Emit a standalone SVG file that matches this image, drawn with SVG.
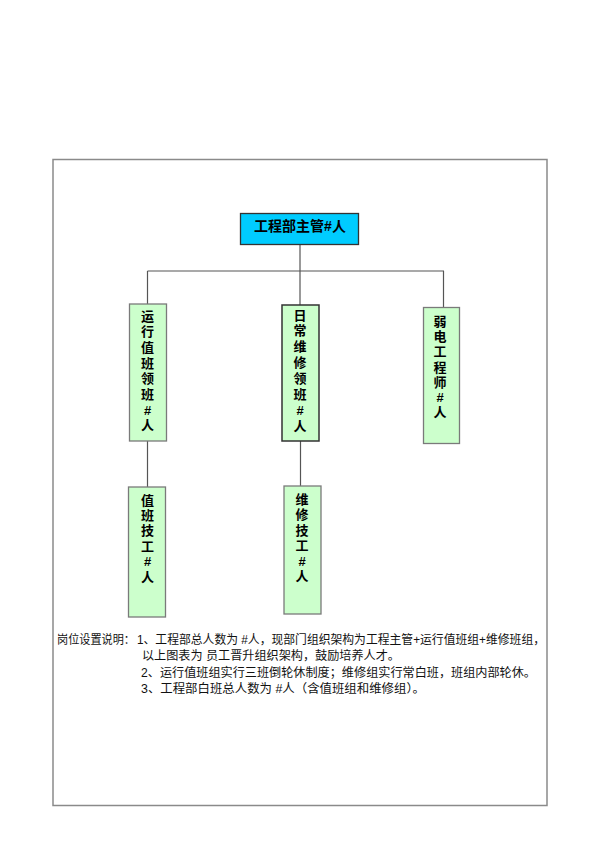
<svg xmlns="http://www.w3.org/2000/svg" width="600" height="850" viewBox="0 0 600 850">
<style>
.frame{fill:#fff;stroke:#8a8a8a;stroke-width:1.5}
.conn{stroke:#555;stroke-width:1.2;fill:none}
.boxg{fill:#ccffcc;stroke:#7a7a7a;stroke-width:1.3}
.boxgd{fill:#ccffcc;stroke:#333;stroke-width:1.5}
.boxb{fill:#00ccff;stroke:#333;stroke-width:1.3}
.nt{font-family:"Liberation Sans","Noto Sans CJK SC",sans-serif;font-size:13px;font-weight:bold;fill:#000;text-anchor:middle}
.tt{font-family:"Liberation Sans","Noto Sans CJK SC",sans-serif;font-size:14px;font-weight:bold;fill:#000;text-anchor:middle}
.note{font-family:"Liberation Sans","Noto Sans CJK SC",sans-serif;font-size:12px;fill:#111}
</style>
<rect width="600" height="850" fill="#fff"/>
<rect class="frame" x="53" y="159.5" width="494" height="646"/>
<g id="connectors">
<line class="conn" x1="300" y1="244" x2="300" y2="271"/>
<line class="conn" x1="147.5" y1="271" x2="444" y2="271"/>
<line class="conn" x1="147.5" y1="271" x2="147.5" y2="304"/>
<line class="conn" x1="300" y1="271" x2="300" y2="305"/>
<line class="conn" x1="443.5" y1="271" x2="443.5" y2="307"/>
<line class="conn" x1="147.5" y1="441" x2="147.5" y2="487"/>
<line class="conn" x1="300.5" y1="441" x2="300.5" y2="486"/>
</g>
<g id="node-head">
<rect class="boxb" x="240.5" y="213.5" width="118" height="31"/>
<text class="tt" x="300" y="231">工程部主管#人</text>
</g>
<g id="node-yunxing">
<rect class="boxg" x="129.5" y="304" width="37" height="137"/>
<text class="nt" x="147.5" y="320.5"><tspan x="147.5">运</tspan><tspan x="147.5" dy="15.7">行</tspan><tspan x="147.5" dy="15.7">值</tspan><tspan x="147.5" dy="15.7">班</tspan><tspan x="147.5" dy="15.7">领</tspan><tspan x="147.5" dy="15.7">班</tspan><tspan x="147.5" dy="15.7">#</tspan><tspan x="147.5" dy="15.7">人</tspan></text>
</g>
<g id="node-richang">
<rect class="boxgd" x="282" y="305" width="37" height="136"/>
<text class="nt" x="300" y="319.5"><tspan x="300">日</tspan><tspan x="300" dy="15.9">常</tspan><tspan x="300" dy="15.9">维</tspan><tspan x="300" dy="15.9">修</tspan><tspan x="300" dy="15.9">领</tspan><tspan x="300" dy="15.9">班</tspan><tspan x="300" dy="15.9">#</tspan><tspan x="300" dy="15.9">人</tspan></text>
</g>
<g id="node-ruodian">
<rect class="boxg" x="423.5" y="307.5" width="36" height="136"/>
<text class="nt" x="440" y="326"><tspan x="440">弱</tspan><tspan x="440" dy="15.2">电</tspan><tspan x="440" dy="15.2">工</tspan><tspan x="440" dy="15.2">程</tspan><tspan x="440" dy="15.2">师</tspan><tspan x="440" dy="15.2">#</tspan><tspan x="440" dy="15.2">人</tspan></text>
</g>
<g id="node-zhiban">
<rect class="boxg" x="128.5" y="487" width="37" height="130"/>
<text class="nt" x="147.5" y="504.5"><tspan x="147.5">值</tspan><tspan x="147.5" dy="15.4">班</tspan><tspan x="147.5" dy="15.4">技</tspan><tspan x="147.5" dy="15.4">工</tspan><tspan x="147.5" dy="15.4">#</tspan><tspan x="147.5" dy="15.4">人</tspan></text>
</g>
<g id="node-weixiu">
<rect class="boxg" x="284" y="486" width="37" height="128"/>
<text class="nt" x="302" y="503.5"><tspan x="302">维</tspan><tspan x="302" dy="15.5">修</tspan><tspan x="302" dy="15.5">技</tspan><tspan x="302" dy="15.5">工</tspan><tspan x="302" dy="15.5">#</tspan><tspan x="302" dy="15.5">人</tspan></text>
</g>
<g id="notes">
<text class="note" x="57" y="643.5" textLength="78" lengthAdjust="spacingAndGlyphs">岗位设置说明：</text>
<text class="note" x="137" y="643.5" textLength="408" lengthAdjust="spacingAndGlyphs">1、工程部总人数为 #人，现部门组织架构为工程主管+运行值班组+维修班组，</text>
<text class="note" x="142" y="660" textLength="258" lengthAdjust="spacingAndGlyphs">以上图表为 员工晋升组织架构，鼓励培养人才。</text>
<text class="note" x="141" y="676.5" textLength="395" lengthAdjust="spacingAndGlyphs">2、运行值班组实行三班倒轮休制度；维修组实行常白班，班组内部轮休。</text>
<text class="note" x="141" y="693" textLength="284" lengthAdjust="spacingAndGlyphs">3、工程部白班总人数为 #人（含值班组和维修组）。</text>
</g>
</svg>
